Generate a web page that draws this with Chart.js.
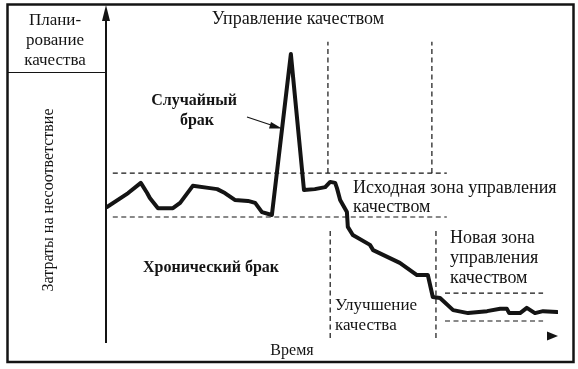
<!DOCTYPE html>
<html>
<head>
<meta charset="utf-8">
<script src="https://cdn.jsdelivr.net/npm/chart.js@4/dist/chart.umd.min.js"></script>
<style>
  html, body { margin: 0; padding: 0; background: #fff; }
  #wrap { width: 578px; height: 369px; }
</style>
</head>
<body>
<div id="wrap"><canvas id="c" width="578" height="369"></canvas></div>
<script>
// ---- data (time units 0..100, cost units 0..100) ----
const time = [0.2, 4.9, 7.7, 9.1, 9.7, 11.5, 14.8, 16.4, 19.2, 23.0, 24.6, 26.3, 28.5, 31.4, 33.0, 34.5, 36.7,
              40.9, 43.8, 46.2, 48.5, 49.6, 50.7, 51.1, 51.8, 53.3, 53.5, 54.6, 58.4, 59.1, 65.0, 68.8, 71.2,
              72.3, 73.9, 76.8, 80.1, 84.3, 87.2, 88.7, 89.2, 91.6, 93.1, 94.9, 96.7, 99.8];
const cost = [40.5, 44.8, 47.9, 44.8, 43.3, 40.2, 40.2, 41.8, 47.0, 46.3, 46.0, 44.8, 42.7, 42.4, 41.8, 39.0, 38.1,
              87.2, 45.7, 46.0, 46.6, 48.2, 47.9, 46.3, 42.7, 39.0, 34.5, 32.0, 29.0, 27.4, 23.5, 19.8, 19.8,
              13.1, 12.8, 9.1, 8.2, 8.8, 9.5, 9.5, 8.2, 8.2, 9.8, 8.2, 8.8, 8.5];
const origZoneLevels = [37.5, 50.9];     // lower, upper bound of original control zone
const origZoneSpan = [1.5, 75.4];
const newZoneLevels = [5.8, 14.3];       // lower, upper bound of new control zone
const newZoneSpan = [75.0, 96.7];
const controlBounds = [49.1, 72.1];      // vertical dashed (upper part)
const controlRange = [50.9, 90.9];
const improveBounds = [49.6, 73.0];      // vertical dashed (lower part)
const improveRange = [0.6, 34.1];

const INK = '#141414';
const SERIF = '"Liberation Serif", "DejaVu Serif", serif';

function pts(xs, ys) { return xs.map((x, i) => ({ x: x, y: ys[i] })); }

const dashStyle = { borderColor: INK, borderWidth: 1.2, borderDash: [5, 3.5], pointRadius: 0, fill: false, tension: 0 };
const datasets = [
  { label: 'Затраты', data: pts(time, cost), borderColor: INK, borderWidth: 4, pointRadius: 0, tension: 0,
    borderJoinStyle: 'round', borderCapStyle: 'round', fill: false }
];
origZoneLevels.forEach(v => datasets.push(Object.assign({ data: pts(origZoneSpan, [v, v]) }, dashStyle)));
newZoneLevels.forEach(v => datasets.push(Object.assign({ data: pts(newZoneSpan, [v, v]) }, dashStyle)));
controlBounds.forEach(v => datasets.push(Object.assign({ data: pts([v, v], controlRange) }, dashStyle)));
improveBounds.forEach(v => datasets.push(Object.assign({ data: pts([v, v], improveRange) }, dashStyle)));

const decor = {
  id: 'decor',
  afterDraw(chart) {
    const ctx = chart.ctx;
    const xs = chart.scales.x, ys = chart.scales.y;
    const ca = chart.chartArea;
    ctx.save();
    ctx.strokeStyle = INK; ctx.fillStyle = INK;
    // frame
    ctx.lineWidth = 2.5;
    ctx.strokeRect(7.5, 4.5, 566, 357.5);
    // planning box separator
    ctx.lineWidth = 1.2;
    ctx.beginPath(); ctx.moveTo(7, 72.5); ctx.lineTo(ca.left, 72.5); ctx.stroke();
    // y axis with arrow
    ctx.lineWidth = 2;
    ctx.beginPath(); ctx.moveTo(ca.left, 14); ctx.lineTo(ca.left, ca.bottom + 3); ctx.stroke();
    ctx.beginPath(); ctx.moveTo(ca.left, 5); ctx.lineTo(ca.left - 4, 21); ctx.lineTo(ca.left + 4, 21); ctx.closePath(); ctx.fill();
    // x arrow head
    const ax = xs.getPixelForValue(100), ay = ys.getPixelForValue(1.2);
    ctx.beginPath(); ctx.moveTo(ax, ay); ctx.lineTo(ax - 11, ay - 4.5); ctx.lineTo(ax - 11, ay + 4.5); ctx.closePath(); ctx.fill();
    // pointer arrow to spike
    ctx.lineWidth = 1.2;
    ctx.beginPath(); ctx.moveTo(247, 117); ctx.lineTo(274, 126); ctx.stroke();
    ctx.beginPath(); ctx.moveTo(282, 128.5); ctx.lineTo(271, 122); ctx.lineTo(269, 128.5); ctx.closePath(); ctx.fill();

    // texts
    ctx.textBaseline = 'alphabetic';
    ctx.textAlign = 'center';
    ctx.font = '17px ' + SERIF;
    ctx.fillText('Плани-', 55, 25);
    ctx.fillText('рование', 55, 45);
    ctx.fillText('качества', 55, 65);
    ctx.font = '18px ' + SERIF;
    ctx.fillText('Управление качеством', 298, 24);
    ctx.font = 'bold 16px ' + SERIF;
    ctx.fillText('Случайный', 194, 105);
    ctx.fillText('брак', 197, 125);
    ctx.fillText('Хронический брак', 211, 272);
    ctx.font = '16px ' + SERIF;
    ctx.fillText('Время', 292, 355);
    ctx.textAlign = 'left';
    ctx.font = '18px ' + SERIF;
    ctx.fillText('Исходная зона управления', 353, 193);
    ctx.fillText('качеством', 353, 212);
    ctx.fillText('Новая зона', 450, 243);
    ctx.fillText('управления', 450, 263);
    ctx.fillText('качеством', 450, 283);
    ctx.font = '17px ' + SERIF;
    ctx.fillText('Улучшение', 335, 310);
    ctx.fillText('качества', 335, 330);
    // rotated axis title
    ctx.save();
    ctx.translate(53, 200);
    ctx.rotate(-Math.PI / 2);
    ctx.textAlign = 'center';
    ctx.font = '16px ' + SERIF;
    ctx.fillText('Затраты на несоответствие', 0, 0);
    ctx.restore();
    ctx.restore();
  }
};

new Chart(document.getElementById('c'), {
  type: 'line',
  data: { datasets: datasets },
  options: {
    responsive: false,
    devicePixelRatio: 1,
    animation: false,
    layout: { padding: { left: 106, right: 20, top: 12, bottom: 29 } },
    plugins: { legend: { display: false }, tooltip: { enabled: false } },
    scales: {
      x: { type: 'linear', min: 0, max: 100, display: false },
      y: { type: 'linear', min: 0, max: 100, display: false }
    }
  },
  plugins: [decor]
});
</script>
</body>
</html>
